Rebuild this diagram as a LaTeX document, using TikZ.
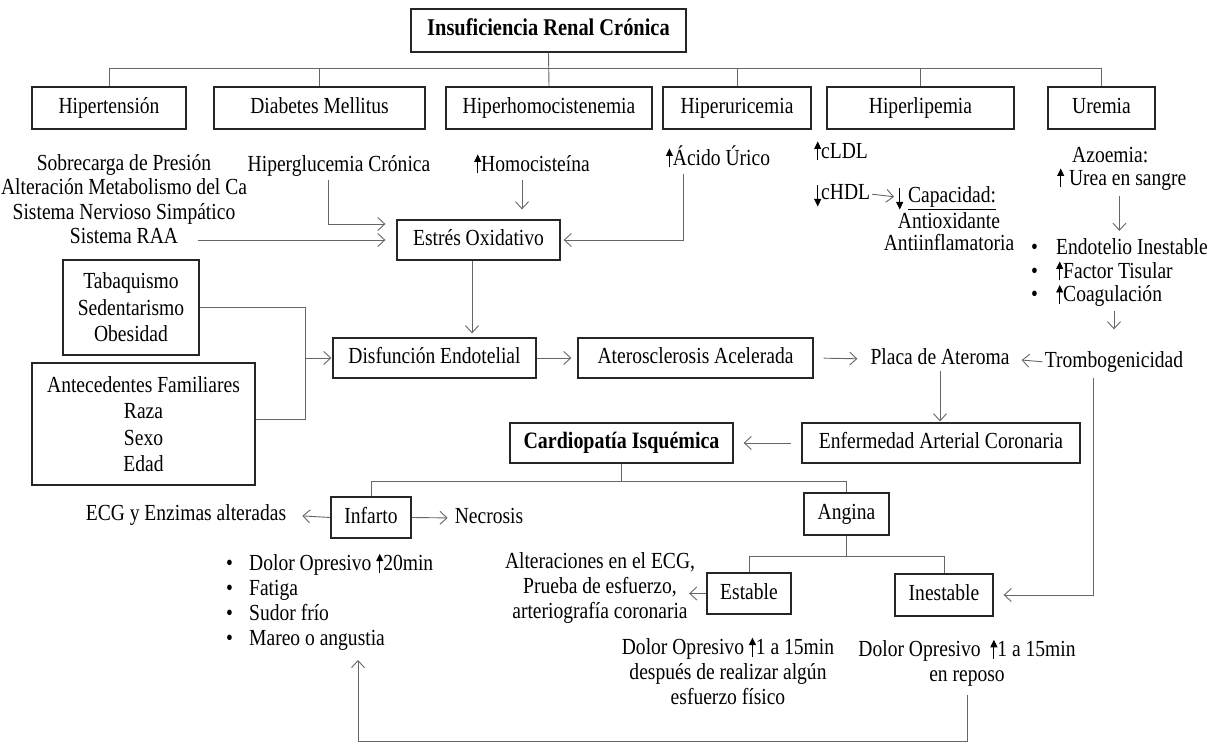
\documentclass[tikz,border=0pt]{standalone}
\usepackage{fontspec}
\setmainfont{Liberation Serif}[FakeStretch=0.85]
\usetikzlibrary{arrows.meta}
\newcommand{\upa}{\tikz[baseline=0pt,x=1pt,y=1pt]\draw[black,line width=0.9pt,-{Triangle[length=7.5pt,width=7pt]}] (0,-2)--(0,17);}
\newcommand{\dna}{\tikz[baseline=0pt,x=1pt,y=1pt]\draw[black,line width=0.9pt,-{Triangle[length=7.5pt,width=7pt]}] (0,14)--(0,-7);}
\begin{document}
\begin{tikzpicture}[x=1pt,y=-1pt,
  box/.style={draw=black!85,line width=1.3pt,inner sep=0pt,minimum height=42pt,text height=16pt,text depth=5pt,align=center,font=\fontsize{23}{24.5}\selectfont},
  mbox/.style={draw=black!85,line width=1.3pt,inner sep=0pt,align=center,font=\fontsize{23}{26.5}\selectfont},
  txt/.style={inner sep=0pt,text height=16pt,text depth=5pt,font=\fontsize{23}{24.5}\selectfont},
  mtxt/.style={inner sep=0pt,align=center,font=\fontsize{23}{24.5}\selectfont},
  conn/.style={draw=black!60,line width=0.9pt},
  arr/.style={conn,-{Straight Barb[length=7pt,width=13pt]}}]
\fill[white] (0,0) rectangle (1208,743);
\useasboundingbox (0,0) rectangle (1208,743);

% top
\node[box,minimum width=275pt,minimum height=43pt,font=\fontsize{24}{26}\selectfont] (irc) at (548.5,30.5) {\textbf{Insuficiencia Renal Crónica}};
\node[box,minimum width=154pt] (hip) at (109,108) {Hipertensión};
\node[box,minimum width=211pt] (dm) at (319.5,108) {Diabetes Mellitus};
\node[box,minimum width=206pt] (hhc) at (549,108) {Hiperhomocistenemia};
\node[box,minimum width=148pt] (hu) at (737,108) {Hiperuricemia};
\node[box,minimum width=187pt] (hl) at (920.5,108) {Hiperlipemia};
\node[box,minimum width=107pt] (ur) at (1101.5,108) {Uremia};
\coordinate (bus) at (0,68);
\draw[conn] (irc.south) -- (hhc.north);
\draw[conn] (hip.north) -- (hip.north |- bus) -- (ur.north |- bus) -- (ur.north);
\draw[conn] (dm.north) -- (dm.north |- bus);
\draw[conn] (hu.north) -- (hu.north |- bus);
\draw[conn] (hl.north) -- (hl.north |- bus);

% causes
\node[mtxt] (sob) at (124,199) {Sobrecarga de Presión\\Alteración Metabolismo del Ca\\Sistema Nervioso Simpático\\Sistema RAA};
\coordinate (raa) at (198,240);
\node[txt] (hgl) at (339,166) {Hiperglucemia Crónica};
\node[txt] (homo) at (532,166) {\upa Homocisteína};
\node[txt] (acid) at (718,160) {\upa Ácido Úrico};
\node[txt,anchor=west] (cldl) at (814,153) {\upa cLDL};
\node[txt,anchor=west] (chdl) at (814,194) {\dna cHDL};
\node[txt,anchor=west] (capac) at (896,197) {\dna\ \underline{Capacidad:}};
\node[mtxt,font=\fontsize{23}{22}\selectfont] (antiox) at (949,232) {Antioxidante\\Antiinflamatoria};
\node[txt,anchor=west] (azo) at (1072,157) {Azoemia:};
\node[txt,anchor=west] (urea) at (1057,180) {\upa\ Urea en sangre};
\node[mtxt,align=left,anchor=west,font=\fontsize{23}{23.5}\selectfont] (bul) at (1031,273) {\makebox[25pt][l]{•}Endotelio Inestable\\\makebox[25pt][l]{•}\upa Factor Tisular\\\makebox[25pt][l]{•}\upa Coagulación};

\node[box,minimum width=163pt,minimum height=40pt] (estres) at (478.5,240) {Estrés Oxidativo};

\coordinate (hglA) at ([xshift=-11pt]hgl.south);
\draw[arr,shorten <=3pt,shorten >=11pt] (hglA) |- ([yshift=16pt]estres.west);
\draw[arr,shorten >=11pt] (raa) -- (estres.west);
\coordinate (homoA) at ([xshift=-10pt]homo.south);
\draw[arr,shorten <=3pt,shorten >=10pt] (homoA) -- (homoA |- estres.north);
\coordinate (acA) at ([xshift=-35pt]acid.south);
\draw[arr,shorten <=3pt,shorten >=3pt] (acA) |- (estres.east);
\draw[arr,shorten <=2pt,shorten >=2pt] (chdl.east) -- (capac.west);
\draw[arr,shorten <=5pt,shorten >=8pt] (urea.south -| bul.north) -- (bul.north);

% middle
\node[mbox,minimum width=136pt,minimum height=95pt] (tab) at (131,307.5) {Tabaquismo\\Sedentarismo\\Obesidad};
\node[mbox,minimum width=223pt,minimum height=122pt] (ant) at (143.5,424) {Antecedentes Familiares\\Raza\\Sexo\\Edad};
\node[box,minimum width=203pt,minimum height=40pt] (disf) at (434.5,358) {Disfunción Endotelial};
\node[box,minimum width=235pt,minimum height=40pt] (ater) at (695.5,358) {Aterosclerosis Acelerada};
\node[txt] (placa) at (940,359) {Placa de Ateroma};
\node[txt] (tromb) at (1114,362) {Trombogenicidad};

\coordinate (edA) at ([xshift=-6.5pt]estres.south);
\draw[arr,shorten >=4pt] (edA) -- (edA |- disf.north);
\coordinate (jn) at (305,358);
\draw[conn] (tab.east) -| (jn);
\draw[conn] ([yshift=5pt]ant.east) -| (jn);
\draw[arr,shorten >=1pt] (jn) -- (disf.west);
\draw[arr,shorten >=6pt] (disf.east) -- (ater.west);
\draw[arr,shorten <=10pt,shorten >=13pt] (ater.east) -- (placa.west);
\draw[arr,shorten <=2pt,shorten >=12pt] (tromb.west) -- (placa.east);
\draw[arr,shorten <=4pt,shorten >=22pt] (bul.south -| tromb.north) -- (tromb.north);

\node[box,minimum width=278pt,minimum height=40pt] (enf) at (941,443) {Enfermedad Arterial Coronaria};
\node[box,minimum width=223pt,minimum height=40pt,font=\fontsize{23.5}{25}\selectfont] (card) at (621.5,443) {\textbf{Cardiopatía Isquémica}};
\draw[arr,shorten <=1pt,shorten >=1pt] (placa.south) -- (placa.south |- enf.north);
\draw[arr,shorten <=10pt,shorten >=10pt] (enf.west) -- (card.east);

% bottom
\node[box,minimum width=80pt,minimum height=41pt] (inf) at (371,517.5) {Infarto};
\node[box,minimum width=85pt,minimum height=42pt] (ang) at (846.5,514) {Angina};
\coordinate (cb) at (0,481);
\draw[conn] (card.south) -- (card.south |- cb);
\draw[conn] (inf.north) -- (inf.north |- cb) -- (ang.north |- cb) -- (ang.north);

\node[txt] (ecg) at (186,515) {ECG y Enzimas alteradas};
\node[txt] (necr) at (489,518) {Necrosis};
\draw[arr,shorten >=16pt] (inf.west) -- (ecg.east);
\draw[arr,shorten >=7pt] (inf.east) -- (necr.west);
\node[mtxt,align=left,anchor=west,font=\fontsize{23}{25}\selectfont] (infl) at (226,602) {\makebox[23pt][l]{•}Dolor Opresivo \upa20min\\\makebox[23pt][l]{•}Fatiga\\\makebox[23pt][l]{•}Sudor frío\\\makebox[23pt][l]{•}Mareo o angustia};

\node[box,minimum width=84pt,minimum height=41pt] (est) at (749,593.5) {Estable};
\node[box,minimum width=98pt,minimum height=42pt] (ines) at (944,595) {Inestable};
\coordinate (ab) at (0,556);
\draw[conn] (ang.south) -- (ang.south |- ab);
\draw[conn] (est.north) -- (est.north |- ab) -- (ines.north |- ab) -- (ines.north);

\node[mtxt,font=\fontsize{23}{25}\selectfont] (alter) at (600,588) {Alteraciones en el ECG,\\Prueba de esfuerzo,\\arteriografía coronaria};
\draw[arr,shorten >=-6pt] (est.west) -- (est.west -| alter.east);
\node[mtxt,font=\fontsize{23}{25}\selectfont] (estd) at (728,671) {Dolor Opresivo \upa1 a 15min\\después de realizar algún\\esfuerzo físico};
\node[mtxt,font=\fontsize{23}{25}\selectfont] (reposo) at (967,663) {Dolor Opresivo \ \upa1 a 15min\\en reposo};

\coordinate (tv) at ([xshift=-21pt]tromb.south);
\draw[arr,shorten <=5pt,shorten >=10pt] (tv) |- (ines.east);
\coordinate (bl) at (358,741.5);
\coordinate (tipI) at (358,660);
\draw[arr,shorten <=8pt] (reposo.south) |- (bl) -- (tipI);
\end{tikzpicture}
\end{document}
